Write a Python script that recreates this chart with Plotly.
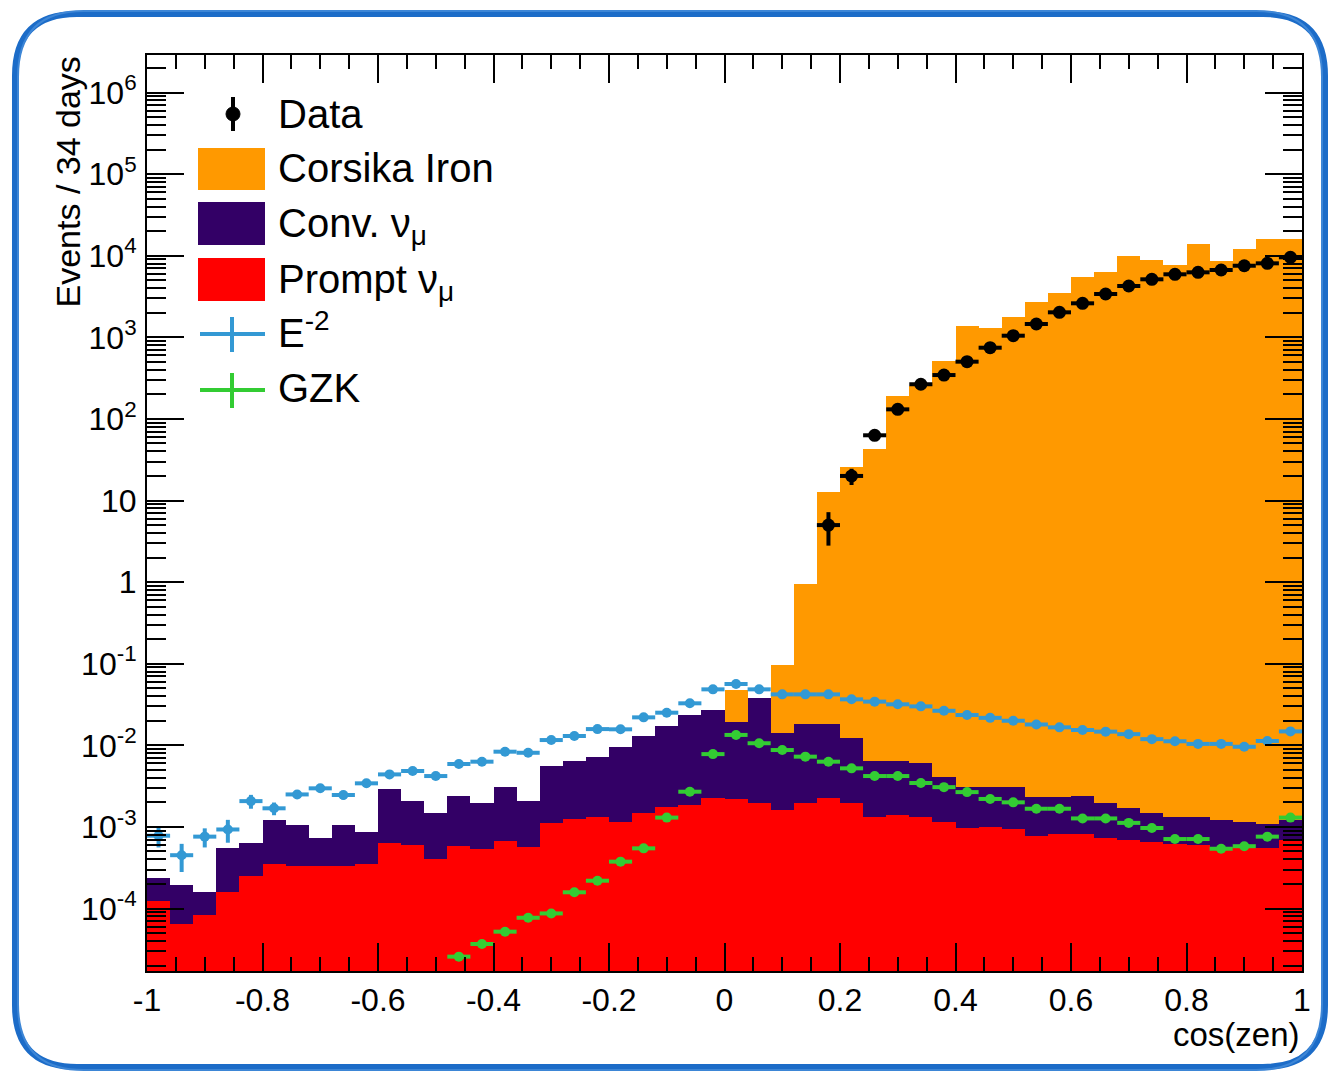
import numpy as np
import plotly.graph_objects as go

# ---------------- data ----------------
bin_edges = np.linspace(-1.0, 1.0, 51)
bin_centers = 0.5 * (bin_edges[:-1] + bin_edges[1:])
bin_width = 0.04

# visible stack levels (top of each coloured area)
corsika_iron_stack = [None] * 25 + [
    0.0476, None, 0.096, 0.94, 12.8, 25.9, 42.4, 192, 255, 513,
    1377, 1313, 1790, 2690, 3520, 5530, 6260, 10000, 8850, 7690,
    13900, 8690, 12070, 15900, 15900]

conv_numu_stack = [
    2.34e-4, 1.94e-4, 1.61e-4, 5.46e-4, 6.41e-4, 1.22e-3, 1.07e-3, 7.24e-4, 1.07e-3, 8.75e-4,
    2.88e-3, 2.07e-3, 1.49e-3, 2.39e-3, 1.98e-3, 3.11e-3, 2.08e-3, 5.57e-3, 6.42e-3, 7.26e-3,
    9.44e-3, 1.30e-2, 1.72e-2, 2.35e-2, 2.71e-2, 1.95e-2, 3.76e-2, 1.43e-2, 1.82e-2, 1.82e-2,
    1.22e-2, 6.49e-3, 6.40e-3, 6.00e-3, 4.10e-3, 3.10e-3, 3.10e-3, 3.08e-3, 2.30e-3, 2.30e-3,
    2.39e-3, 1.95e-3, 1.70e-3, 1.50e-3, 1.32e-3, 1.32e-3, 1.22e-3, 1.16e-3, 1.08e-3, 1.22e-3]

prompt_numu = [
    1.25e-4, 6.4e-5, 8.3e-5, 1.58e-4, 2.52e-4, 3.51e-4, 3.32e-4, 3.32e-4, 3.32e-4, 3.51e-4,
    6.41e-4, 6.00e-4, 4.04e-4, 5.89e-4, 5.31e-4, 6.72e-4, 5.62e-4, 1.13e-3, 1.24e-3, 1.31e-3,
    1.16e-3, 1.49e-3, 1.74e-3, 1.85e-3, 2.24e-3, 2.20e-3, 1.98e-3, 1.61e-3, 1.98e-3, 2.24e-3,
    1.98e-3, 1.33e-3, 1.40e-3, 1.33e-3, 1.16e-3, 9.6e-4, 1.01e-3, 9.5e-4, 7.8e-4, 8.3e-4,
    8.3e-4, 7.3e-4, 7.0e-4, 6.5e-4, 6.1e-4, 6.0e-4, 5.7e-4, 5.5e-4, 5.5e-4, 6.9e-4]

e2_signal = [
    7.8e-4, 4.5e-4, 7.6e-4, 9.3e-4, 2.07e-3, 1.69e-3, 2.5e-3, 2.97e-3, 2.46e-3, 3.42e-3,
    4.4e-3, 4.84e-3, 4.2e-3, 5.9e-3, 6.3e-3, 8.35e-3, 8.1e-3, 1.16e-2, 1.30e-2, 1.58e-2,
    1.57e-2, 2.20e-2, 2.51e-2, 3.27e-2, 4.85e-2, 5.64e-2, 4.85e-2, 4.21e-2, 4.21e-2, 4.21e-2,
    3.66e-2, 3.43e-2, 3.18e-2, 3.0e-2, 2.65e-2, 2.35e-2, 2.17e-2, 2.0e-2, 1.8e-2, 1.66e-2,
    1.54e-2, 1.47e-2, 1.37e-2, 1.19e-2, 1.12e-2, 1.04e-2, 1.04e-2, 9.6e-3, 1.13e-2, 1.48e-2]
e2_signal_err = [
    2.2e-4, 1.7e-4, 2.0e-4, 2.9e-4, 4.0e-4, 3.0e-4, 3.0e-4, 3.0e-4, 3.0e-4, 3.0e-4,
    3.0e-4, 3.0e-4, 3.0e-4] + [0.0] * 37

gzk_signal = [None] * 13 + [
    2.57e-5, 3.67e-5, 5.2e-5, 7.7e-5, 8.7e-5, 1.58e-4, 2.19e-4, 3.75e-4, 5.46e-4, 1.30e-3,
    2.70e-3, 7.8e-3, 1.34e-2, 1.06e-2, 8.75e-3, 7.26e-3, 6.3e-3, 5.22e-3, 4.2e-3, 4.2e-3,
    3.45e-3, 3.07e-3, 2.67e-3, 2.2e-3, 2.0e-3, 1.67e-3, 1.67e-3, 1.27e-3, 1.27e-3, 1.12e-3,
    9.7e-4, 7.1e-4, 7.1e-4, 5.4e-4, 5.8e-4, 7.6e-4, 1.30e-3]

data_events = [None] * 29 + [
    5, 20, 63, 131, 266, 345, 503, 746, 1047, 1456,
    2025, 2611, 3397, 4256, 5140, 5920, 6260, 6680, 7540, 8070, 9560]
data_err = [None] * 29 + [
    2.2, 4.5, 8.0, 11.4, 16.3, 18.6, 22.4, 27.3, 32.4, 38.2,
    45.0, 51.1, 58.3, 65.2, 71.7, 76.9, 79.1, 81.7, 86.8, 89.8, 97.8]

x_tickvals = [-1, -0.8, -0.6, -0.4, -0.2, 0, 0.2, 0.4, 0.6, 0.8, 1]
x_ticktext = ["-1", "-0.8", "-0.6", "-0.4", "-0.2", "0", "0.2", "0.4", "0.6", "0.8", "1"]
y_tickvals = [1e-4, 1e-3, 1e-2, 1e-1, 1, 10, 1e2, 1e3, 1e4, 1e5, 1e6]
y_ticktext = ["10<sup>-4</sup>", "10<sup>-3</sup>", "10<sup>-2</sup>", "10<sup>-1</sup>", "1", "10",
              "10<sup>2</sup>", "10<sup>3</sup>", "10<sup>4</sup>", "10<sup>5</sup>", "10<sup>6</sup>"]

# ---------------- styles ----------------
ORANGE = "#ff9900"
PURPLE = "#330066"
RED = "#ff0000"
BLUE = "#3399d4"
GREEN = "#33cc33"
FONT = "Liberation Sans, Arial, Helvetica, sans-serif"

W, H = 1331, 1076
L, R, T, B = 147, 1302, 55, 971


def px(x):
    return (x - L) / (R - L)


def py(y):
    return (B - y) / (B - T)


fig = go.Figure()

for vals, col in [(corsika_iron_stack, ORANGE), (conv_numu_stack, PURPLE), (prompt_numu, RED)]:
    fig.add_trace(go.Bar(x=bin_centers, y=vals, width=bin_width,
                         marker=dict(color=col, line=dict(width=0)), showlegend=False))

half_bin = [bin_width / 2] * 50
fig.add_trace(go.Scatter(x=bin_centers, y=e2_signal, mode="markers",
                         marker=dict(color=BLUE, size=10, symbol="circle"),
                         error_x=dict(type="data", array=half_bin, color=BLUE, thickness=4, width=0),
                         error_y=dict(type="data", array=e2_signal_err, color=BLUE, thickness=4, width=0),
                         showlegend=False))
fig.add_trace(go.Scatter(x=bin_centers, y=gzk_signal, mode="markers",
                         marker=dict(color=GREEN, size=10, symbol="circle"),
                         error_x=dict(type="data", array=half_bin, color=GREEN, thickness=4, width=0),
                         showlegend=False))
fig.add_trace(go.Scatter(x=bin_centers, y=data_events, mode="markers",
                         marker=dict(color="black", size=13, symbol="circle"),
                         error_x=dict(type="data", array=half_bin, color="black", thickness=4, width=0),
                         error_y=dict(type="data", array=data_err, color="black", thickness=4, width=0),
                         showlegend=False))

minor_y = [k * 10.0 ** e for e in range(-5, 7) for k in range(2, 10)]

fig.update_layout(
    width=W, height=H,
    margin=dict(l=L, r=W - R, t=T, b=H - B, pad=0),
    paper_bgcolor="white", plot_bgcolor="white",
    barmode="overlay", bargap=0,
    font=dict(family=FONT, color="black", size=33),
    showlegend=False,
    xaxis=dict(range=[-1, 1], tickmode="array", tickvals=x_tickvals, ticktext=x_ticktext,
               ticks="inside", ticklen=28, tickwidth=2, tickcolor="black",
               showline=True, linecolor="black", linewidth=2, mirror="allticks",
               showgrid=False, zeroline=False, ticklabelstandoff=0,
               tickfont=dict(size=32),
               minor=dict(ticks="inside", ticklen=14, tickwidth=2, tickcolor="black", dtick=0.05,
                          tick0=0, showgrid=False)),
    yaxis=dict(type="log", range=[-4.766, 6.46], tickmode="array", tickvals=y_tickvals,
               ticktext=y_ticktext, ticks="inside", ticklen=37, tickwidth=2, tickcolor="black",
               showline=True, linecolor="black", linewidth=2, mirror="allticks",
               showgrid=False, zeroline=False, ticklabelstandoff=2,
               tickfont=dict(size=32),
               minor=dict(ticks="inside", ticklen=19, tickwidth=2, tickcolor="black",
                          tickmode="array", tickvals=minor_y, showgrid=False)),
)

# axis titles
fig.add_annotation(text="cos(zen)", xref="paper", yref="paper", x=px(1302), y=py(1034),
                   xanchor="right", yanchor="middle", showarrow=False, font=dict(size=33))
fig.add_annotation(text="Events / 34 days", xref="paper", yref="paper", x=px(67), y=py(55),
                   xanchor="center", yanchor="top", textangle=-90, showarrow=False,
                   font=dict(size=34))

# legend (drawn by hand, ROOT style)
shapes = []
# Data
shapes.append(dict(type="line", xref="paper", yref="paper", x0=px(233), x1=px(233), y0=py(97), y1=py(131),
                   line=dict(color="black", width=4)))
shapes.append(dict(type="circle", xref="paper", yref="paper", x0=px(226), x1=px(240), y0=py(107), y1=py(121),
                   fillcolor="black", line=dict(color="black", width=1)))
# boxes
for (y0, y1, col) in [(148, 190, ORANGE), (202, 245, PURPLE), (258, 301, RED)]:
    shapes.append(dict(type="rect", xref="paper", yref="paper", x0=px(198), x1=px(265), y0=py(y1), y1=py(y0),
                       fillcolor=col, line=dict(width=0)))
# crosses
for (yc, col) in [(334, BLUE), (390, GREEN)]:
    shapes.append(dict(type="line", xref="paper", yref="paper", x0=px(200), x1=px(265), y0=py(yc), y1=py(yc),
                       line=dict(color=col, width=4)))
    shapes.append(dict(type="line", xref="paper", yref="paper", x0=px(232), x1=px(232), y0=py(yc - 17),
                       y1=py(yc + 18), line=dict(color=col, width=4)))


# outer hand-drawn blue frame
def frame_path(l, t, r, b, rad):
    pts = [("M", (l + rad, t)), ("L", (r - rad, t)), ("Q", (r, t), (r, t + rad)), ("L", (r, b - rad)),
           ("Q", (r, b), (r - rad, b)), ("L", (l + rad, b)), ("Q", (l, b), (l, b - rad)),
           ("L", (l, t + rad)), ("Q", (l, t), (l + rad, t))]
    s = ""
    for p in pts:
        s += p[0] + " " + " ".join(f"{px(a):.5f},{py(c):.5f}" for a, c in p[1:]) + " "
    return s + "Z"


shapes.append(dict(type="path", xref="paper", yref="paper", path=frame_path(15, 14, 1325, 1067, 62),
                   line=dict(color="#1c6cc8", width=6)))
shapes.append(dict(type="path", xref="paper", yref="paper", path=frame_path(18, 11, 1322, 1070, 66),
                   line=dict(color="#3d86d6", width=2)))
fig.update_layout(shapes=shapes)

legend_text = [("Data", 114), ("Corsika Iron", 168), ("Conv. ν<sub>μ</sub>", 226),
               ("Prompt ν<sub>μ</sub>", 282), ("E<sup>-2</sup>", 330), ("GZK", 388)]
for txt, yc in legend_text:
    fig.add_annotation(text=txt, xref="paper", yref="paper", x=px(276), y=py(yc), xanchor="left",
                       yanchor="middle", showarrow=False, font=dict(size=40))

fig.write_html("out.html", config={"displayModeBar": False},
               post_script="document.body.style.margin='0';document.body.style.overflow='hidden';")
